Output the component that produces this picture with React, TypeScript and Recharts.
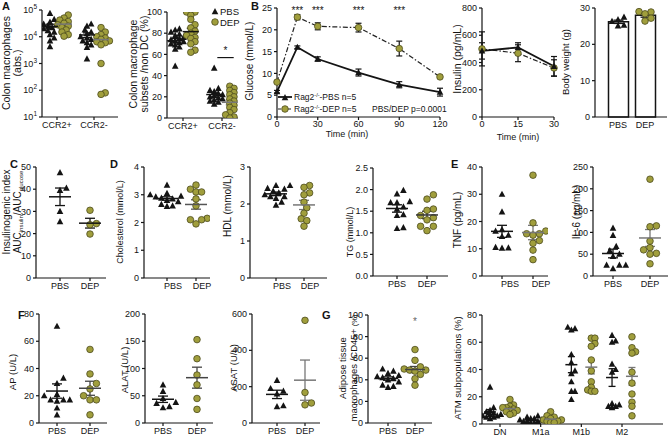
import React from 'react';
import { ScatterChart, Scatter, XAxis, YAxis, ErrorBar, ComposedChart, Line, Bar, ReferenceLine } from 'recharts';

const FONT = '"Liberation Sans", Arial, Helvetica, sans-serif';
const INK = '#141414';
const OLIVE = '#a09e3c';
const OLIVE_EDGE = '#4d4b1e';
const GREY = '#777777';

// ---------------- data ----------------
const groupNames = ['PBS', 'DEP'];
const colonCategories = ['CCR2+', 'CCR2-'];
const atmCategories = ['DN', 'M1a', 'M1b', 'M2'];

const colonAbsPBSccr2pos = [75000, 45000, 35000, 30000, 27000, 25000, 22000, 20000, 17000, 15000, 12000, 9000, 7000, 4300];
const colonAbsDEPccr2pos = [65000, 50000, 42000, 37000, 32000, 28000, 25000, 22000, 18000, 15000, 12000, 10500];
const colonAbsPBSccr2neg = [30000, 25000, 18000, 15000, 13000, 10000, 9000, 8000, 7000, 6000, 5000, 4000, 1500];
const colonAbsDEPccr2neg = [22000, 15000, 12000, 10000, 9000, 8000, 7000, 6500, 6000, 5000, 1000, 80, 70];

const colonPctPBSccr2pos = [84, 83, 81, 79, 78, 76, 75, 74, 73, 72, 71, 70, 69, 67, 65, 49];
const colonPctDEPccr2pos = [100, 100, 97, 93, 88, 85, 82, 80, 78, 76, 75, 72, 70, 64, 62];
const colonPctPBSccr2neg = [47, 28, 26, 25, 23, 22, 21, 20, 19, 18, 17, 16, 15, 13];
const colonPctDEPccr2neg = [30, 28, 26, 24, 22, 20, 18, 16, 14, 12, 10, 8, 5, 3, 1, 0];

const glucoseTime = [0, 15, 30, 60, 90, 120];
const glucosePBS = [5.8, 16.0, 13.3, 10.2, 7.4, 5.7];
const glucosePBSsem = [0.3, 0.3, 0.5, 0.8, 0.7, 0.9];
const glucoseDEP = [8.0, 22.9, 20.8, 20.5, 15.7, 9.2];
const glucoseDEPsem = [0.3, 0.6, 0.8, 1.0, 1.7, 0.3];
const glucoseSigTimes = [15, 30, 60, 90];

const insulinTime = [0, 15, 30];
const insulinPBS = [485, 510, 372];
const insulinPBSsem = [60, 35, 72];
const insulinDEP = [500, 468, 360];
const insulinDEPsem = [125, 62, 60];

const bodyWeightPBS = [27.5, 26.8, 26.3, 25.3, 25.1];
const bodyWeightDEP = [29.0, 28.9, 28.4, 27.2, 26.4];

const insulinogenicPBS = [47.5, 40.5, 39.5, 30, 25.4];
const insulinogenicDEP = [30.5, 24.5, 24, 19.8];

const cholesterolPBS = [3.35, 3.05, 3.0, 2.95, 2.92, 2.88, 2.85, 2.8, 2.75, 2.65, 2.6, 2.58];
const cholesterolDEP = [3.35, 3.2, 3.1, 3.1, 2.85, 2.6, 2.15, 2.1, 2.1, 1.95];
const hdlPBS = [2.5, 2.5, 2.42, 2.4, 2.35, 2.3, 2.25, 2.2, 2.2, 2.15, 2.05, 1.97];
const hdlDEP = [2.5, 2.45, 2.3, 2.25, 2.05, 1.9, 1.75, 1.6, 1.55, 1.4];
const tgPBS = [1.98, 1.9, 1.72, 1.7, 1.7, 1.6, 1.55, 1.42, 1.4, 1.12, 1.1];
const tgDEP = [1.88, 1.78, 1.55, 1.52, 1.4, 1.35, 1.3, 1.15, 1.15, 1.05];

const tnfPBS = [30, 23.5, 17, 16.5, 15, 14.5, 10.5, 10.3, 10.2];
const tnfDEP = [37, 19.5, 16.5, 15.5, 15.5, 15, 13, 12, 9.5, 6];
const il6PBS = [110, 93, 68, 58, 50, 45, 25, 25, 25, 17];
const il6DEP = [222, 115, 113, 80, 65, 60, 52, 50, 28];

const apPBS = [71, 33, 29, 21, 20, 17, 17, 17, 16, 11, 6];
const apDEP = [54, 36, 29, 25, 20, 17, 17, 6];
const alatPBS = [70, 58, 45, 38, 36, 30, 28];
const alatDEP = [153, 118, 88, 70, 45, 25];
const asatPBS = [235, 190, 175, 160, 95, 90];
const asatDEP = [565, 168, 110, 100];

const adiposePBS = [50, 48, 46, 44, 43, 42, 41, 40, 38, 35, 34, 33];
const adiposeDEP = [68, 58, 52, 50, 49, 49, 48, 45, 41, 35];

const atmDNPBS = [27, 12, 10, 9, 8, 7, 7, 6, 6, 5, 5, 4];
const atmDNDEP = [18, 14, 13, 12, 12, 11, 10, 10, 9, 8, 7];
const atmM1aPBS = [6, 5, 4, 4, 3, 3, 3, 2, 2, 2, 1, 1];
const atmM1aDEP = [9, 6, 5, 4, 3, 3, 2, 2, 1, 1];
const atmM1bPBS = [71, 70, 69, 51, 45, 39, 37, 31, 24, 24, 18];
const atmM1bDEP = [63, 63, 59, 57, 47, 39, 31, 27, 25, 24, 24];
const atmM2PBS = [65, 61, 60, 44, 40, 38, 15, 14, 13, 13, 12];
const atmM2DEP = [64, 56, 53, 52, 38, 30, 22, 16, 13, 6];

// ---------------- helpers ----------------
const mean = (a: number[]) => a.reduce((s, v) => s + v, 0) / a.length;
const sem = (a: number[]) => {
  const m = mean(a);
  const sd = Math.sqrt(a.reduce((s, v) => s + (v - m) ** 2, 0) / (a.length - 1));
  return sd / Math.sqrt(a.length);
};

const YW = 34;
const PAD = 10;
const XH = 20;
const RM = 14;
function box(X: number, Yt: number, Yb: number, Xe: number) {
  return { left: X - YW, top: Yt - PAD, width: Xe - X + YW + RM, height: Yb - Yt + PAD + XH };
}
const MARGIN = { top: PAD, right: RM, left: 0, bottom: 0 };
function dom2(X: number, Xe: number, p1: number, p2: number, v1: number, v2: number): [number, number] {
  const u = (p2 - p1) / (v2 - v1);
  return [v1 - (p1 - X) / u, v2 + (Xe - p2) / u];
}

// simple beeswarm: horizontal pixel offsets for points at given vertical pixel positions
function swarm(ys: number[], d: number): number[] {
  const idx = ys.map((_, i) => i).sort((a, b) => ys[a] - ys[b]);
  const placed: { x: number; y: number }[] = [];
  const out = new Array(ys.length).fill(0);
  for (const i of idx) {
    const y = ys[i];
    let best = 0;
    for (let k = 0; k < 60; k++) {
      const cand = k === 0 ? 0 : (k % 2 ? 1 : -1) * Math.ceil(k / 2) * d * 0.5;
      if (placed.every((p) => Math.hypot(p.x - cand, p.y - y) >= d)) {
        best = cand;
        break;
      }
    }
    placed.push({ x: best, y });
    out[i] = best;
  }
  return out;
}

const triPath = (cx: number, cy: number) => `M${cx},${cy - 3.6}L${cx + 3.3},${cy + 2.6}L${cx - 3.3},${cy + 2.6}Z`;
const Tri = (p: any) => <path d={triPath(p.cx + (p.payload?.dx || 0), p.cy)} fill={INK} />;
const Circ = (p: any) => (
  <circle cx={p.cx + (p.payload?.dx || 0)} cy={p.cy} r={3.3} fill={OLIVE} stroke={OLIVE_EDGE} strokeWidth={0.8} />
);

const axisStroke = { stroke: INK, strokeWidth: 1.2 };

function XTick(props: any) {
  const { x, y, payload, vals, names, dx = 0 } = props;
  let label = String(payload.value);
  if (vals) {
    const i = vals.findIndex((t: number) => Math.abs(t - payload.value) < 1e-6);
    label = i >= 0 ? names[i] : '';
  }
  return (
    <text x={x + dx} y={y} dy="0.75em" textAnchor="middle" fontSize={9} fontFamily={FONT} fill={INK}>
      {label}
    </text>
  );
}
function YTick(props: any) {
  const { x, y, payload, fmt, log } = props;
  if (log) {
    const e = Math.round(Math.log10(payload.value));
    return (
      <text x={x} y={y} dy="0.35em" textAnchor="end" fontSize={9} fontFamily={FONT} fill={INK}>
        10<tspan dy={-4} fontSize={6.5}>{e}</tspan>
      </text>
    );
  }
  return (
    <text x={x} y={y} dy="0.35em" textAnchor="end" fontSize={9} fontFamily={FONT} fill={INK}>
      {fmt ? fmt(payload.value) : payload.value}
    </text>
  );
}

const NoteShape = (p: any) => (
  <text x={p.cx} y={p.cy} dy="0.6em" textAnchor="middle" fontSize={p.payload.size || 10} fontFamily={FONT} fill={p.payload.color || INK}>
    {p.payload.text}
  </text>
);

type Group = { pos: number; values: number[]; kind: 'PBS' | 'DEP'; meanColor?: string };
type PanelProps = {
  X: number; Yt: number; Yb: number; Xe: number;
  xDomain: [number, number]; xTicks: number[]; xLabels: string[]; labelDx?: number;
  yDomain: [number, number]; yTicks: number[]; log?: boolean; yFmt?: (v: number) => string;
  groups: Group[]; meanHalf?: number; capHalf?: number; spread?: number;
  notes?: { x: number; y: number; text: string; size?: number; color?: string }[];
  segments?: { x1: number; x2: number; y: number }[];
};

function DotPanel(p: PanelProps) {
  const b = box(p.X, p.Yt, p.Yb, p.Xe);
  const H = p.Yb - p.Yt;
  const pxPerX = (p.Xe - p.X) / (p.xDomain[1] - p.xDomain[0]);
  const l0 = Math.log10(p.yDomain[0] || 1);
  const l1 = Math.log10(p.yDomain[1]);
  const toPx = (v: number) =>
    p.log ? ((Math.log10(v) - l0) / (l1 - l0)) * H : ((v - p.yDomain[0]) / (p.yDomain[1] - p.yDomain[0])) * H;
  const hw = p.meanHalf ?? 11;
  const cap = p.capHalf ?? 5;
  return (
    <div style={{ position: 'absolute', left: b.left, top: b.top }}>
      <ScatterChart width={b.width} height={b.height} margin={MARGIN}>
        <XAxis
          type="number"
          dataKey="x"
          domain={p.xDomain}
          ticks={p.xTicks}
          interval={0}
          allowDataOverflow
          height={XH}
          axisLine={axisStroke}
          tickLine={axisStroke}
          tickSize={3}
          tickMargin={1}
          tick={(tp: any) => <XTick {...tp} vals={p.xTicks} names={p.xLabels} dx={p.labelDx ?? 0} />}
        />
        <YAxis
          type="number"
          dataKey="y"
          domain={p.yDomain}
          ticks={p.yTicks}
          interval={0}
          scale={p.log ? 'log' : 'linear'}
          allowDataOverflow
          width={YW}
          axisLine={axisStroke}
          tickLine={axisStroke}
          tickSize={3}
          tickMargin={2}
          tick={(tp: any) => <YTick {...tp} fmt={p.yFmt} log={p.log} />}
        />
        {(p.segments || []).map((s, i) => (
          <ReferenceLine
            key={'s' + i}
            segment={[{ x: s.x1, y: s.y }, { x: s.x2, y: s.y }]}
            stroke={INK}
            strokeWidth={1.2}
            ifOverflow="visible"
          />
        ))}
        {p.groups.map((g, gi) => {
          const offs = swarm(g.values.map(toPx), p.spread ?? 6.4);
          const data = g.values.map((v, i) => ({ x: g.pos + offs[i] / pxPerX, y: v }));
          return <Scatter key={'pts' + gi} data={data} isAnimationActive={false} shape={g.kind === 'PBS' ? Tri : Circ} />;
        })}
        {p.groups.map((g, gi) => {
          const color = g.meanColor ?? INK;
          const data = [{ x: g.pos, y: mean(g.values), e: sem(g.values) }];
          return (
            <Scatter
              key={'mean' + gi}
              data={data}
              isAnimationActive={false}
              shape={(sp: any) => (
                <line x1={sp.cx - hw} x2={sp.cx + hw} y1={sp.cy} y2={sp.cy} stroke={color} strokeWidth={1.5} />
              )}
            >
              <ErrorBar dataKey="e" width={cap} stroke={color} strokeWidth={1.3} direction="y" />
            </Scatter>
          );
        })}
        {p.notes && p.notes.length > 0 && <Scatter data={p.notes} isAnimationActive={false} shape={NoteShape} />}
      </ScatterChart>
    </div>
  );
}

function twoGroups(pbs: number[], dep: number[], depMean = INK): Group[] {
  return [
    { pos: 1, values: pbs, kind: 'PBS' },
    { pos: 2, values: dep, kind: 'DEP', meanColor: depMean },
  ];
}

const TriDot = (p: any) =>
  p.cx == null ? <g key={p.index} /> : <path key={p.index} d={triPath(p.cx, p.cy)} fill={INK} />;
const CircDot = (p: any) =>
  p.cx == null ? (
    <g key={p.index} />
  ) : (
    <circle key={p.index} cx={p.cx} cy={p.cy} r={3.3} fill={OLIVE} stroke={OLIVE_EDGE} strokeWidth={0.8} />
  );

function TimePanel(props: {
  X: number; Yt: number; Yb: number; Xe: number;
  time: number[]; pbs: number[]; pbsE: number[]; dep: number[]; depE: number[];
  yDomain: [number, number]; yTicks: number[]; xTicks: number[];
  sig?: number[]; sigY?: number;
}) {
  const b = box(props.X, props.Yt, props.Yb, props.Xe);
  const table = props.time.map((t, i) => ({ t, pbs: props.pbs[i], pbsE: props.pbsE[i], dep: props.dep[i], depE: props.depE[i] }));
  const sigData = (props.sig || []).map((t) => ({ t, y: props.sigY ?? 0, text: '***', size: 10 }));
  return (
    <div style={{ position: 'absolute', left: b.left, top: b.top }}>
      <ComposedChart width={b.width} height={b.height} data={table} margin={MARGIN}>
        <XAxis
          type="number"
          dataKey="t"
          domain={[props.time[0], props.time[props.time.length - 1]]}
          ticks={props.xTicks}
          interval={0}
          height={XH}
          axisLine={axisStroke}
          tickLine={axisStroke}
          tickSize={3}
          tickMargin={0}
          tick={(tp: any) => <XTick {...tp} />}
        />
        <YAxis
          type="number"
          domain={props.yDomain}
          ticks={props.yTicks}
          interval={0}
          width={YW}
          axisLine={axisStroke}
          tickLine={axisStroke}
          tickSize={3}
          tickMargin={2}
          tick={(tp: any) => <YTick {...tp} />}
        />
        <Line
          dataKey="dep"
          stroke="#222"
          strokeWidth={1.2}
          strokeDasharray="5 2 1.5 2"
          dot={CircDot}
          activeDot={false}
          isAnimationActive={false}
        >
          <ErrorBar dataKey="depE" width={3} stroke={INK} strokeWidth={1.2} direction="y" />
        </Line>
        <Line dataKey="pbs" stroke={INK} strokeWidth={1.8} dot={TriDot} activeDot={false} isAnimationActive={false}>
          <ErrorBar dataKey="pbsE" width={3} stroke={INK} strokeWidth={1.2} direction="y" />
        </Line>
        {sigData.length > 0 && <Scatter data={sigData} dataKey="y" isAnimationActive={false} shape={NoteShape} />}
      </ComposedChart>
    </div>
  );
}

function BodyWeightPanel() {
  const X = 595, Yt = 8, Yb = 117, Xe = 667;
  const b = box(X, Yt, Yb, Xe);
  const bars = [
    { name: groupNames[0], y: mean(bodyWeightPBS), e: sem(bodyWeightPBS) },
    { name: groupNames[1], y: mean(bodyWeightDEP), e: sem(bodyWeightDEP) },
  ];
  const toPx = (v: number) => (v / 30) * (Yb - Yt);
  const mk = (vals: number[], name: string) => {
    const offs = swarm(vals.map(toPx), 6.0);
    return vals.map((v, i) => ({ name, y: v, dx: offs[i] }));
  };
  return (
    <div style={{ position: 'absolute', left: b.left, top: b.top }}>
      <ComposedChart width={b.width} height={b.height} data={bars} margin={MARGIN}>
        <XAxis
          type="category"
          dataKey="name"
          allowDuplicatedCategory={false}
          padding={{ left: 9.5, right: 8.5 }}
          interval={0}
          height={XH}
          axisLine={axisStroke}
          tickLine={false}
          tickSize={3}
          tickMargin={1}
          tick={(tp: any) => <XTick {...tp} />}
        />
        <YAxis
          type="number"
          domain={[0, 30]}
          ticks={[0, 10, 20, 30]}
          interval={0}
          width={YW}
          axisLine={axisStroke}
          tickLine={axisStroke}
          tickSize={3}
          tickMargin={2}
          tick={(tp: any) => <YTick {...tp} />}
        />
        <Bar dataKey="y" barSize={20} fill="#fff" stroke={INK} strokeWidth={1.5} isAnimationActive={false}>
          <ErrorBar dataKey="e" width={5} stroke={INK} strokeWidth={1.3} direction="y" />
        </Bar>
        <Scatter data={mk(bodyWeightPBS, groupNames[0])} dataKey="y" isAnimationActive={false} shape={Tri} />
        <Scatter data={mk(bodyWeightDEP, groupNames[1])} dataKey="y" isAnimationActive={false} shape={Circ} />
      </ComposedChart>
    </div>
  );
}

const VText = ({ cx, cy, size = 10, children }: any) => (
  <text transform={`rotate(-90 ${cx} ${cy})`} x={cx} y={cy} dy="0.35em" textAnchor="middle" fontSize={size} fill={INK}>
    {children}
  </text>
);
const Letter = ({ x, y, children }: any) => (
  <text x={x} y={y} fontSize={11} fontWeight="bold" fill={INK}>
    {children}
  </text>
);

export default function App() {
  const pct = [0, 20, 40, 60, 80, 100];
  return (
    <div style={{ position: 'fixed', left: 0, top: 0, width: 669, height: 436, background: '#fff', overflow: 'hidden', fontFamily: FONT }}>
      {/* A left */}
      <DotPanel
        X={42} Yt={10} Yb={117} Xe={118}
        xDomain={dom2(42, 118, 57, 94, 0, 1)} xTicks={[0, 1]} xLabels={colonCategories}
        yDomain={[10, 100000]} yTicks={[10, 100, 1000, 10000, 100000]} log
        meanHalf={8} capHalf={4} spread={4.2}
        groups={[
          { pos: -0.19, values: colonAbsPBSccr2pos, kind: 'PBS' },
          { pos: 0.19, values: colonAbsDEPccr2pos, kind: 'DEP', meanColor: GREY },
          { pos: 0.81, values: colonAbsPBSccr2neg, kind: 'PBS' },
          { pos: 1.19, values: colonAbsDEPccr2neg, kind: 'DEP', meanColor: GREY },
        ]}
      />
      {/* A right */}
      <DotPanel
        X={167} Yt={12} Yb={118} Xe={238}
        xDomain={dom2(167, 238, 183, 222, 0, 1)} xTicks={[0, 1]} xLabels={colonCategories}
        yDomain={[0, 100]} yTicks={pct}
        meanHalf={8} capHalf={4} spread={4.2}
        groups={[
          { pos: -0.2, values: colonPctPBSccr2pos, kind: 'PBS' },
          { pos: 0.2, values: colonPctDEPccr2pos, kind: 'DEP' },
          { pos: 0.8, values: colonPctPBSccr2neg, kind: 'PBS' },
          { pos: 1.2, values: colonPctDEPccr2neg, kind: 'DEP', meanColor: GREY },
        ]}
        segments={[{ x1: 0.88, x2: 1.3, y: 57 }]}
        notes={[{ x: 1.09, y: 66, text: '*' }]}
      />
      {/* B glucose */}
      <TimePanel
        X={277} Yt={8} Yb={117} Xe={440}
        time={glucoseTime} pbs={glucosePBS} pbsE={glucosePBSsem} dep={glucoseDEP} depE={glucoseDEPsem}
        yDomain={[0, 25]} yTicks={[0, 5, 10, 15, 20, 25]} xTicks={[0, 30, 60, 90, 120]}
        sig={glucoseSigTimes} sigY={25}
      />
      {/* B insulin */}
      <TimePanel
        X={482} Yt={8} Yb={117} Xe={554}
        time={insulinTime} pbs={insulinPBS} pbsE={insulinPBSsem} dep={insulinDEP} depE={insulinDEPsem}
        yDomain={[0, 800]} yTicks={[0, 200, 400, 600, 800]} xTicks={[0, 15, 30]}
      />
      <BodyWeightPanel />
      {/* C */}
      <DotPanel
        X={36} Yt={167} Yb={278} Xe={106}
        xDomain={dom2(36, 106, 60, 90, 1, 2)} xTicks={[1, 2]} xLabels={groupNames}
        yDomain={[0, 50]} yTicks={[0, 10, 20, 30, 40, 50]}
        groups={twoGroups(insulinogenicPBS, insulinogenicDEP)}
        notes={[{ x: 1.57, y: 51, text: '*', color: '#666' }]}
      />
      {/* D cholesterol */}
      <DotPanel
        X={144} Yt={167} Yb={278} Xe={210}
        xDomain={dom2(144, 210, 167, 196, 1, 2)} xTicks={[1, 2]} xLabels={groupNames} labelDx={6}
        yDomain={[0, 4]} yTicks={[0, 1, 2, 3, 4]} spread={5.6}
        groups={twoGroups(cholesterolPBS, cholesterolDEP, '#555')}
      />
      {/* D HDL */}
      <DotPanel
        X={250} Yt={167} Yb={278} Xe={327}
        xDomain={dom2(250, 327, 276, 304, 1, 2)} xTicks={[1, 2]} xLabels={groupNames} labelDx={6}
        yDomain={[0, 3]} yTicks={[0, 1, 2, 3]} spread={5.6}
        groups={twoGroups(hdlPBS, hdlDEP, GREY)}
      />
      {/* D TG */}
      <DotPanel
        X={373} Yt={168} Yb={276} Xe={448}
        xDomain={dom2(373, 448, 397, 427, 1, 2)} xTicks={[1, 2]} xLabels={groupNames}
        yDomain={[0, 2.5]} yTicks={[0, 0.5, 1, 1.5, 2, 2.5]} yFmt={(v) => v.toFixed(1)}
        groups={twoGroups(tgPBS, tgDEP, '#333')}
      />
      {/* E TNF */}
      <DotPanel
        X={482} Yt={167} Yb={276} Xe={548}
        xDomain={dom2(482, 548, 502, 533, 1, 2)} xTicks={[1, 2]} xLabels={groupNames} labelDx={8}
        yDomain={[0, 40]} yTicks={[0, 10, 20, 30, 40]}
        groups={twoGroups(tnfPBS, tnfDEP, GREY)}
      />
      {/* E IL-6 */}
      <DotPanel
        X={593} Yt={167} Yb={276} Xe={668}
        xDomain={dom2(593, 668, 613, 650, 1, 2)} xTicks={[1, 2]} xLabels={groupNames}
        yDomain={[0, 250]} yTicks={[0, 50, 100, 150, 200, 250]}
        groups={twoGroups(il6PBS, il6DEP, GREY)}
      />
      {/* F AP */}
      <DotPanel
        X={39} Yt={314} Yb={423} Xe={107}
        xDomain={dom2(39, 107, 57, 90, 1, 2)} xTicks={[1, 2]} xLabels={groupNames}
        yDomain={[0, 80]} yTicks={[0, 20, 40, 60, 80]}
        groups={twoGroups(apPBS, apDEP, '#444')}
      />
      {/* F ALAT */}
      <DotPanel
        X={145} Yt={314} Yb={423} Xe={213}
        xDomain={dom2(145, 213, 163, 197, 1, 2)} xTicks={[1, 2]} xLabels={groupNames}
        yDomain={[0, 200]} yTicks={[0, 50, 100, 150, 200]}
        groups={twoGroups(alatPBS, alatDEP, '#444')}
      />
      {/* F ASAT */}
      <DotPanel
        X={252} Yt={314} Yb={423} Xe={320}
        xDomain={dom2(252, 320, 277, 305, 1, 2)} xTicks={[1, 2]} xLabels={groupNames}
        yDomain={[0, 600]} yTicks={[0, 200, 400, 600]}
        groups={twoGroups(asatPBS, asatDEP, GREY)}
      />
      {/* G adipose */}
      <DotPanel
        X={368} Yt={315} Yb={423} Xe={432}
        xDomain={dom2(368, 432, 388, 415, 1, 2)} xTicks={[1, 2]} xLabels={groupNames}
        yDomain={[0, 100]} yTicks={pct} spread={5.4}
        meanHalf={10}
        groups={twoGroups(adiposePBS, adiposeDEP, '#444')}
        notes={[{ x: 2, y: 96, text: '*', color: '#666' }]}
      />
      {/* G ATM */}
      <DotPanel
        X={482} Yt={315} Yb={424} Xe={663}
        xDomain={dom2(482, 663, 500, 622, 0, 3)} xTicks={[0, 1, 2, 3]} xLabels={atmCategories}
        yDomain={[0, 80]} yTicks={[0, 20, 40, 60, 80]}
        meanHalf={6} capHalf={3.5} spread={3.6}
        groups={[
          { pos: -0.245, values: atmDNPBS, kind: 'PBS' },
          { pos: 0.245, values: atmDNDEP, kind: 'DEP', meanColor: GREY },
          { pos: 0.755, values: atmM1aPBS, kind: 'PBS' },
          { pos: 1.245, values: atmM1aDEP, kind: 'DEP', meanColor: GREY },
          { pos: 1.755, values: atmM1bPBS, kind: 'PBS' },
          { pos: 2.245, values: atmM1bDEP, kind: 'DEP', meanColor: GREY },
          { pos: 2.755, values: atmM2PBS, kind: 'PBS' },
          { pos: 3.245, values: atmM2DEP, kind: 'DEP', meanColor: GREY },
        ]}
      />

      {/* text overlay */}
      <svg width={669} height={436} style={{ position: 'absolute', left: 0, top: 0, pointerEvents: 'none' }} fontFamily={FONT}>
        <Letter x={2} y={10}>A</Letter>
        <Letter x={251} y={10}>B</Letter>
        <Letter x={10} y={168}>C</Letter>
        <Letter x={110} y={168}>D</Letter>
        <Letter x={451} y={168}>E</Letter>
        <Letter x={18} y={319}>F</Letter>
        <Letter x={322} y={319}>G</Letter>

        <VText cx={6} cy={63} size={10.5}>Colon macrophages</VText>
        <VText cx={17} cy={63} size={10.5}>(abs.)</VText>
        <VText cx={133} cy={64} size={10.5}>Colon macrophage</VText>
        <VText cx={144} cy={64} size={10.5}>subsets /non DC (%)</VText>
        <VText cx={249} cy={61} size={10}>Glucose (mmol/L)</VText>
        <VText cx={457} cy={59} size={10.5}>Insulin (pg/mL)</VText>
        <VText cx={566} cy={62} size={9.5}>Body weight (g)</VText>

        <VText cx={6} cy={212} size={10}>Insulinogenic index</VText>
        <VText cx={17} cy={212} size={10}>
          AUC<tspan fontSize={6} dy={2}>insulin</tspan>
          <tspan dy={-2}>/AUC</tspan>
          <tspan fontSize={6} dy={2}>glucose</tspan>
        </VText>
        <VText cx={120} cy={222} size={9}>Cholesterol (mmol/L)</VText>
        <VText cx={227} cy={206} size={10}>HDL (mmol/L)</VText>
        <VText cx={350} cy={232} size={9}>TG (mmol/L)</VText>
        <VText cx={457} cy={220} size={10}>TNF (pg/mL)</VText>
        <VText cx={576} cy={212} size={10}>IL-6 (pg/mL)</VText>

        <VText cx={13} cy={372} size={9.5}>AP (U/L)</VText>
        <VText cx={125} cy={370} size={9.5}>ALAT (U/L)</VText>
        <VText cx={234} cy={368} size={9.5}>ASAT (U/L)</VText>
        <VText cx={343} cy={368} size={9.5}>Adipose tissue</VText>
        <VText cx={354} cy={368} size={9.5}>
          macrophages /CD45+ <tspan fontSize={7.5}>(%)</tspan>
        </VText>
        <VText cx={458} cy={368} size={9.5}>ATM subpopulations (%)</VText>

        <text x={347} y={137} textAnchor="middle" fontSize={9} fill={INK}>Time (min)</text>
        <text x={518} y={140} textAnchor="middle" fontSize={9} fill={INK}>Time (min)</text>

        {/* A right legend */}
        <path d={triPath(215, 11.6)} fill={INK} />
        <text x={220} y={15} fontSize={9.5} fill={INK}>PBS</text>
        <circle cx={215} cy={22} r={3.3} fill={OLIVE} stroke={OLIVE_EDGE} strokeWidth={0.8} />
        <text x={220} y={25.5} fontSize={9.5} fill={INK}>DEP</text>

        {/* B legend */}
        <line x1={278} x2={292} y1={97} y2={97} stroke={INK} strokeWidth={1.8} />
        <path d={triPath(285, 97.6)} fill={INK} />
        <text x={294} y={100} fontSize={8.5} fill={INK}>
          Rag2<tspan fontSize={5.5} dy={-3}>-/-</tspan>
          <tspan dy={3}>-PBS n=5</tspan>
        </text>
        <line x1={278} x2={292} y1={109} y2={109} stroke="#222" strokeWidth={1.2} strokeDasharray="3 2" />
        <circle cx={285} cy={109} r={3.3} fill={OLIVE} stroke={OLIVE_EDGE} strokeWidth={0.8} />
        <text x={294} y={112} fontSize={8.5} fill={INK}>
          Rag2<tspan fontSize={5.5} dy={-3}>-/-</tspan>
          <tspan dy={3}>-DEP n=5</tspan>
        </text>
        <text x={372} y={112} fontSize={8.5} fill={INK}>PBS/DEP  p=0.0001</text>
      </svg>
    </div>
  );
}
